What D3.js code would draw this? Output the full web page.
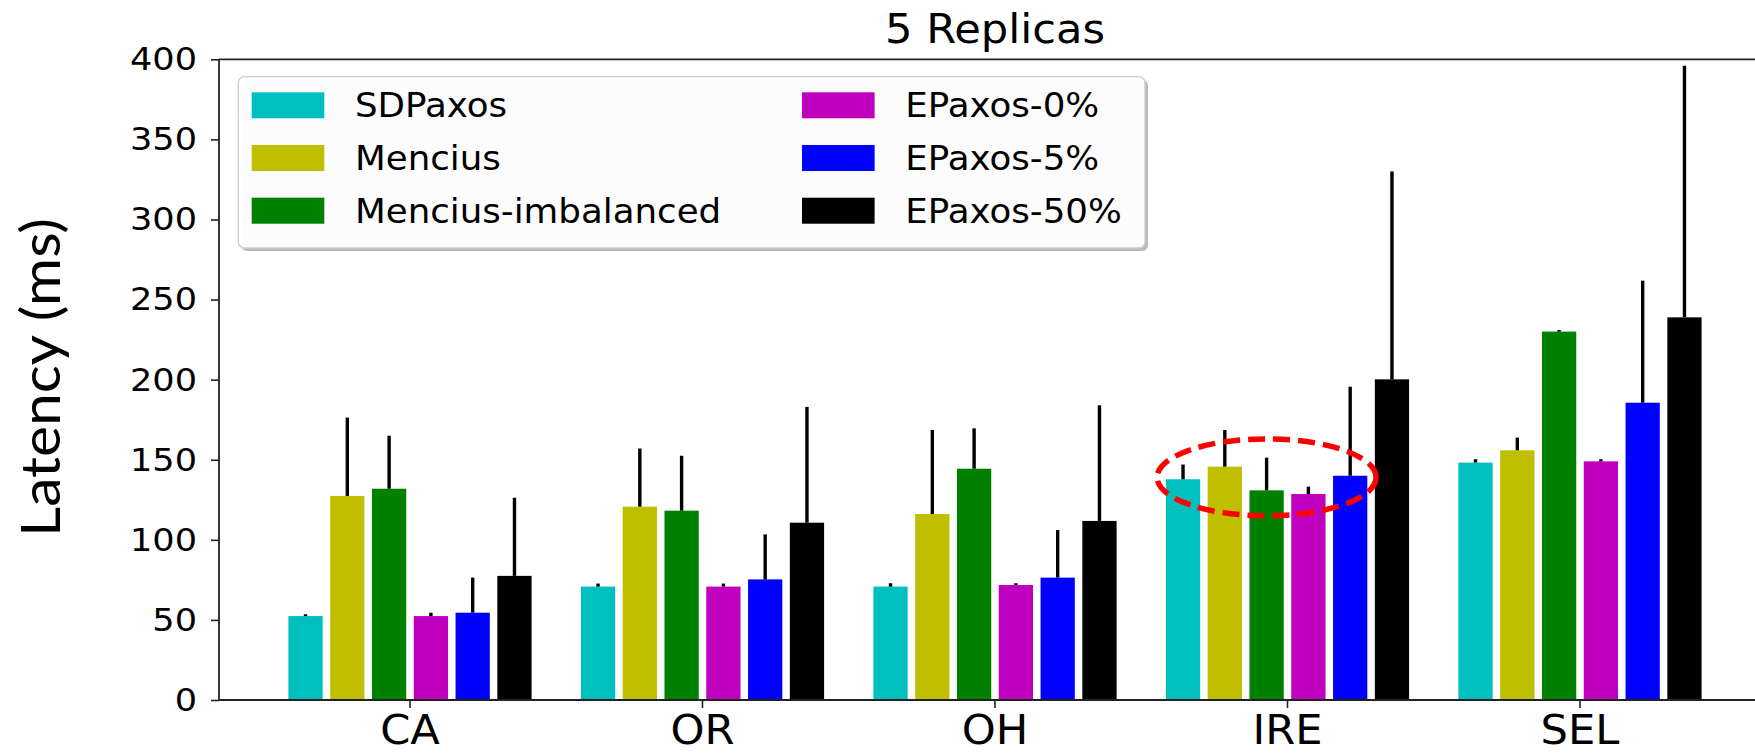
<!DOCTYPE html>
<html lang="en">
  <head>
    <meta charset="utf-8">
    <title>5 Replicas</title>
    <script src="https://d3js.org/d3.v7.min.js"></script>
    <style>
      html, body { margin: 0; padding: 0; background: #fff; overflow: hidden; }
      svg { display: block; }
      text { font-family: "DejaVu Sans", sans-serif; fill: #000; }
    </style>
  </head>
  <body>
    <script type="text/javascript">
      var w = 1755;
      var h = 754;

      var categories = ["CA", "OR", "OH", "IRE", "SEL"];
      var series = ["SDPaxos", "Mencius", "Mencius-imbalanced", "EPaxos-0%", "EPaxos-5%", "EPaxos-50%"];
      var colors = ["#00bfbf", "#bfbf00", "#008000", "#bf00bf", "#0000ff", "#000000"];
      var yTicks = [0, 50, 100, 150, 200, 250, 300, 350, 400];

      // mean latency per series, one value per region
      var sdpaxos     = [52.4, 70.8, 70.8, 137.8, 148.2];
      var mencius     = [127.4, 120.7, 116.1, 145.7, 155.9];
      var menciusImb  = [131.9, 118.2, 144.4, 130.9, 230.0];
      var epaxos0     = [52.4, 70.8, 71.8, 128.6, 149.0];
      var epaxos5     = [54.5, 75.3, 76.4, 140.0, 185.6];
      var epaxos50    = [77.5, 110.7, 111.8, 200.2, 238.9];

      // upper error (ms above the mean)
      var sdpaxosErr    = [1.1, 1.9, 2.1, 9.2, 2.1];
      var menciusErr    = [48.9, 36.3, 52.5, 22.9, 7.9];
      var menciusImbErr = [33.1, 34.3, 25.2, 20.4, 1.0];
      var epaxos0Err    = [2.1, 1.9, 1.1, 4.6, 1.3];
      var epaxos5Err    = [21.9, 28.1, 29.7, 55.6, 76.2];
      var epaxos50Err   = [48.8, 72.3, 72.2, 129.8, 157.1];

      var values = [sdpaxos, mencius, menciusImb, epaxos0, epaxos5, epaxos50];
      var errors = [sdpaxosErr, menciusErr, menciusImbErr, epaxos0Err, epaxos5Err, epaxos50Err];

      var rows = [];
      series.forEach(function(s, i) {
        categories.forEach(function(c, j) {
          rows.push({series: s, cat: c, value: values[i][j], err: errors[i][j], color: colors[i]});
        });
      });

      var plot = {left: 219, right: 1771, top: 59.3, bottom: 700};
      var stretch = "scale(1.08,1)";

      var x = d3.scaleBand()
          .domain(categories)
          .range([plot.left, plot.right])
          .paddingInner(0)
          .paddingOuter(0.153);
      var half = x.bandwidth() * 3 / 7;
      var xIn = d3.scaleBand()
          .domain(series)
          .range([-half, half])
          .paddingInner(0.18)
          .paddingOuter(0.09);
      var y = d3.scaleLinear()
          .domain([0, 400])
          .range([plot.bottom, plot.top]);

      function barX(d) { return x(d.cat) + x.bandwidth() / 2 + xIn(d.series); }

      var svg = d3.select("body")
          .append("svg")
          .attr("width", w)
          .attr("height", h);

      // bars
      svg.append("g").selectAll("rect")
          .data(rows)
          .enter()
          .append("rect")
          .attr("x", barX)
          .attr("y", function(d) { return y(d.value); })
          .attr("width", xIn.bandwidth())
          .attr("height", function(d) { return y(0) - y(d.value); })
          .attr("fill", function(d) { return d.color; });

      // error bars (upper half only)
      svg.append("g").selectAll("line")
          .data(rows)
          .enter()
          .append("line")
          .attr("x1", function(d) { return barX(d) + xIn.bandwidth() / 2; })
          .attr("x2", function(d) { return barX(d) + xIn.bandwidth() / 2; })
          .attr("y1", function(d) { return y(d.value); })
          .attr("y2", function(d) { return y(d.value + d.err); })
          .attr("stroke", "#000")
          .attr("stroke-width", 3.4);

      // axes
      var xAxis = d3.axisBottom(x).tickSize(8).tickSizeOuter(0);
      var gx = svg.append("g")
          .attr("transform", "translate(0," + plot.bottom + ")")
          .call(xAxis);
      gx.select(".domain").remove();
      gx.selectAll("text")
          .attr("y", 44)
          .attr("dy", null)
          .attr("transform", stretch)
          .style("font-size", "40px")
          .style("font-family", "DejaVu Sans");

      var yAxis = d3.axisLeft(y).tickValues(yTicks).tickSize(8).tickSizeOuter(0).tickPadding(12.4);
      var gy = svg.append("g")
          .attr("transform", "translate(" + plot.left + ",0)")
          .call(yAxis);
      gy.select(".domain").remove();
      gy.selectAll("text")
          .attr("transform", stretch)
          .style("font-size", "32.5px")
          .style("font-family", "DejaVu Sans");
      svg.selectAll(".tick line").attr("stroke", "#222").attr("stroke-width", 1.6);

      // spines (right one falls outside the picture)
      var sp = svg.append("g").attr("stroke", "#222").attr("stroke-width", 1.8);
      sp.append("line").attr("x1", plot.left).attr("x2", w).attr("y1", plot.top).attr("y2", plot.top);
      sp.append("line").attr("x1", plot.left).attr("x2", w).attr("y1", plot.bottom).attr("y2", plot.bottom);
      sp.append("line").attr("x1", plot.left).attr("x2", plot.left).attr("y1", plot.top).attr("y2", plot.bottom);

      // title
      svg.append("text")
          .attr("transform", "translate(" + ((plot.left + plot.right) / 2) + ",43) " + stretch)
          .attr("text-anchor", "middle")
          .style("font-size", "40px")
          .text("5 Replicas");

      // y label
      svg.append("text")
          .attr("transform", "translate(60," + 377.5 + ") rotate(-90)")
          .attr("text-anchor", "middle")
          .attr("textLength", 319)
          .attr("lengthAdjust", "spacingAndGlyphs")
          .style("font-family", "Lato, 'Open Sans', sans-serif")
          .style("font-size", "55px")
          .text("Latency (ms)");

      // legend
      var lg = svg.append("g");
      lg.append("rect")
          .attr("x", 241.3).attr("y", 79.7)
          .attr("width", 906.7).attr("height", 171.3)
          .attr("rx", 6)
          .attr("fill", "#808080").attr("opacity", 0.55);
      lg.append("rect")
          .attr("x", 238.3).attr("y", 76.7)
          .attr("width", 906.7).attr("height", 171.3)
          .attr("rx", 6)
          .attr("fill", "#fff").attr("fill-opacity", 0.95)
          .attr("stroke", "#ccc").attr("stroke-width", 1.3);
      var item = lg.selectAll("g.item")
          .data(series)
          .enter()
          .append("g")
          .attr("class", "item")
          .attr("transform", function(d, i) {
            var col = Math.floor(i / 3), row = i % 3;
            return "translate(" + (251.7 + col * 550.3) + "," + (105.3 + row * 52.7) + ")";
          });
      item.append("rect")
          .attr("x", 0).attr("y", -13)
          .attr("width", 72.6).attr("height", 26)
          .attr("fill", function(d, i) { return colors[i]; });
      item.append("text")
          .attr("transform", "translate(103.3,12) " + stretch)
          .style("font-size", "33px")
          .text(function(d) { return d; });

      // red dashed highlight around the IRE group
      var hx = x("IRE") + x.bandwidth() / 2 + xIn("Mencius-imbalanced") + xIn.bandwidth() / 2;
      svg.append("ellipse")
          .attr("cx", hx)
          .attr("cy", y(139))
          .attr("rx", xIn.step() * 2.62)
          .attr("ry", y(0) - y(24))
          .attr("fill", "none")
          .attr("stroke", "#ff0000")
          .attr("stroke-width", 5.5)
          .attr("stroke-dasharray", "17,8");
    </script>
  </body>
</html>
